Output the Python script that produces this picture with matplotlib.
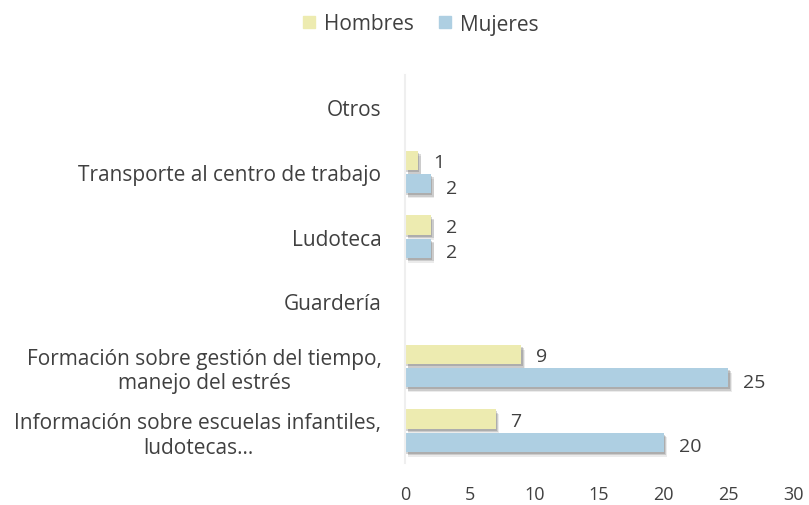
import matplotlib.pyplot as plt
import matplotlib.patheffects as pe
import numpy as np

plt.rcParams['font.family'] = ['Open Sans', 'DejaVu Sans']

categories = [
    'Información sobre escuelas infantiles,\nludotecas...',
    'Formación sobre gestión del tiempo,\nmanejo del estrés',
    'Guardería',
    'Ludoteca',
    'Transporte al centro de trabajo',
    'Otros',
]
hombres = [7, 9, 0, 2, 1, 0]
mujeres = [20, 25, 0, 2, 2, 0]
x_ticks = [0, 5, 10, 15, 20, 25, 30]

c_hombres = '#EDEBB0'
c_mujeres = '#AECFE2'
c_text = '#404040'

fig = plt.figure(figsize=(8.09, 5.06), dpi=100)
ax = fig.add_axes([405 / 809, 1 - 464 / 506, (793 - 405) / 809, (464 - 76) / 506])

y = np.arange(len(categories))
h = 0.3
off = 0.18

# soft drop shadow built from a few stacked translucent offsets
shadow = [
    pe.SimplePatchShadow(offset=(1, -1.5), shadow_rgbFace='#404040', alpha=0.22),
    pe.SimplePatchShadow(offset=(2, -2.5), shadow_rgbFace='#404040', alpha=0.18),
    pe.SimplePatchShadow(offset=(2.5, -3.5), shadow_rgbFace='#404040', alpha=0.1),
    pe.Normal(),
]

bars_h = ax.barh(y + off, hombres, height=h, color=c_hombres, path_effects=shadow)
bars_m = ax.barh(y - off, mujeres, height=h, color=c_mujeres, path_effects=shadow)

# value labels, only for non-empty bars
for bars, vals, dy in ((bars_h, hombres, -0.03), (bars_m, mujeres, -0.06)):
    for b, v in zip(bars, vals):
        if v == 0:
            continue
        ax.annotate(str(v), xy=(v, b.get_y() + b.get_height() / 2 + dy),
                    xytext=(15, 0), textcoords='offset pixels',
                    va='center', ha='left', fontsize=14, color=c_text)

ax.set_xlim(0, 30)
ax.set_ylim(-0.5, len(categories) - 0.5)
ax.set_yticks(y)
ax.set_yticklabels(categories, fontsize=15, color=c_text, ha='right',
                   multialignment='center', linespacing=1.25)
ax.tick_params(axis='y', length=0, pad=17)
ax.set_xticks(x_ticks)
ax.tick_params(axis='x', length=0, labelsize=13, labelcolor=c_text, pad=16)

for s in ('top', 'right', 'bottom'):
    ax.spines[s].set_visible(False)
ax.spines['left'].set_color('#EFEFEF')
ax.spines['left'].set_linewidth(1.5)

legend_handles = [plt.Rectangle((0, 0), 1, 1, color=c_hombres),
                  plt.Rectangle((0, 0), 1, 1, color=c_mujeres)]
fig.legend(legend_handles, ['Hombres', 'Mujeres'], loc='center',
           bbox_to_anchor=(421 / 809, 1 - 25 / 506), ncol=2, frameon=False,
           fontsize=15, handlelength=0.55, handleheight=0.55, handletextpad=0.45,
           columnspacing=1.2, labelcolor=c_text, borderpad=0)

fig.savefig('out.png', dpi=100)
